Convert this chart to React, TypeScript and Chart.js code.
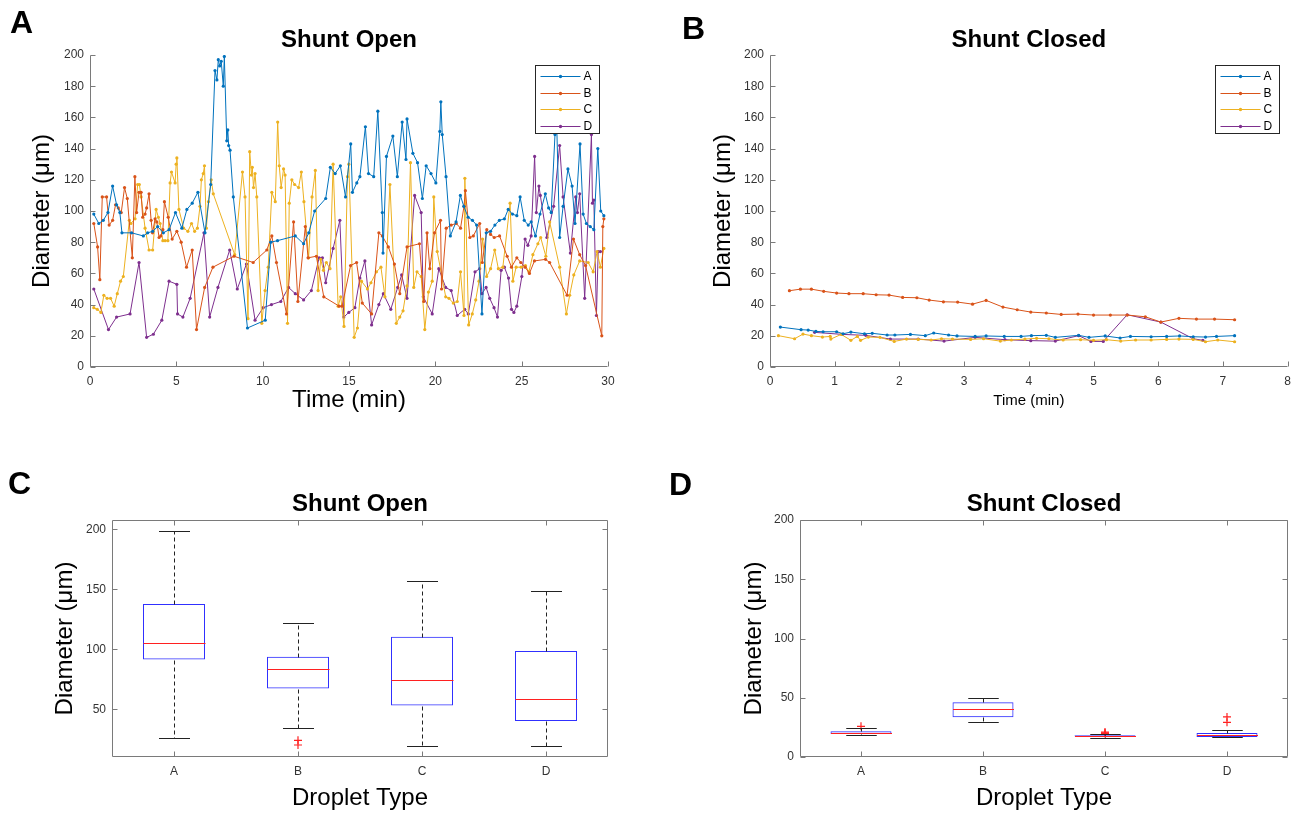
import React, { useEffect, useRef } from 'react';
import { Chart, registerables } from 'chart.js';

Chart.register(...registerables);

const FONT = "'Liberation Sans', Arial, Helvetica, sans-serif";
const TICK_COLOR = '#333333';
const AXIS_COLOR = '#7a7a7a';

const seriesNames = ['A', 'B', 'C', 'D'];
const seriesColors = ['#0072BD', '#D95319', '#EDB120', '#7E2F8E'];

const openTimeTicks = [0, 5, 10, 15, 20, 25, 30];
const closedTimeTicks = [0, 1, 2, 3, 4, 5, 6, 7, 8];
const diameterTicks = [0, 20, 40, 60, 80, 100, 120, 140, 160, 180, 200];
const openBoxTicks = [50, 100, 150, 200];
const closedBoxTicks = [0, 50, 100, 150, 200];

// ---- Panel A : shunt open, diameter vs time ----
const openTimeA = [0.22,0.51,0.77,1.04,1.31,1.54,1.73,1.85,2.41,3.09,3.34,3.63,3.92,4.25,4.58,4.95,5.32,5.61,5.92,6.25,6.66,6.99,7.24,7.35,7.43,7.51,7.6,7.72,7.78,7.92,7.98,8.03,8.11,8.3,9.12,10.15,10.47,10.86,11.89,12.37,12.67,13.01,13.65,13.92,14.2,14.5,14.8,15.1,15.2,15.45,15.63,15.95,16.13,16.43,16.67,16.93,16.97,17.17,17.54,17.8,18.08,18.3,18.36,18.7,18.97,19.25,19.47,19.75,20.03,20.26,20.32,20.4,20.62,20.87,21.2,21.45,21.65,21.9,22.15,22.39,22.7,22.95,23.2,23.45,23.71,24.0,24.22,24.47,24.72,24.91,25.15,25.38,25.55,25.8,26.06,26.37,26.56,26.71,26.93,27.0,27.2,27.4,27.68,27.92,28.09,28.38,28.56,28.75,28.97,29.18,29.41,29.58,29.76];
const openDiamA = [98,92,94,99,116,104,99,86,86,84,86,87,90,86,88,99,89,101,105,112,86,117,190,184,197,193,196,180,199,145,152,142,139,109,25,30,80,81,84,79,86,100,108,128,124,129,109,143,112,118,122,154,124,122,164,99,73,135,148,122,157,133,159,137,131,108,129,124,118,151,170,149,122,84,93,110,103,96,94,91,34,86,87,91,94,95,101,98,97,109,94,91,93,84,98,111,102,99,149,168,83,103,127,116,92,143,98,92,90,88,140,100,97];

const openTimeB = [0.22,0.44,0.57,0.71,0.96,1.11,1.31,1.48,1.64,1.81,2.0,2.16,2.45,2.6,2.7,2.84,2.96,3.05,3.19,3.28,3.42,3.54,3.62,3.77,3.87,4.0,4.1,4.22,4.31,4.53,4.76,5.03,5.28,5.59,5.92,6.17,6.64,7.12,8.34,9.45,10.24,10.53,10.8,11.38,11.79,12.04,12.47,12.63,13.11,13.54,14.43,14.6,15.09,15.44,15.77,16.31,16.73,16.93,17.28,17.63,17.94,18.36,19.08,19.33,19.52,19.68,19.95,20.3,20.36,20.63,20.92,21.21,21.46,21.66,21.74,22.0,22.2,22.57,22.72,22.98,23.2,23.41,23.72,24.16,24.41,24.72,24.95,25.2,25.45,25.74,26.38,26.62,27.63,28.0,28.36,28.7,29.64,29.7,29.76];
const openDiamB = [92,77,56,109,109,91,94,104,102,99,115,108,70,122,99,112,112,96,98,102,111,94,86,95,93,83,84,88,106,96,82,87,80,64,75,24,51,64,71,67,75,84,67,34,93,42,90,70,71,45,39,39,65,67,41,34,86,84,77,66,47,77,79,42,86,63,86,94,50,89,91,92,89,103,113,83,84,92,67,88,85,83,84,71,64,70,67,64,60,68,69,67,46,82,72,65,20,90,95];

const openTimeC = [0.22,0.42,0.63,0.8,0.99,1.19,1.4,1.58,1.77,1.93,2.28,2.37,2.61,2.76,2.86,2.96,3.19,3.42,3.63,3.83,3.96,4.06,4.22,4.35,4.51,4.64,4.72,4.93,4.99,5.03,5.15,5.42,5.67,5.88,6.06,6.22,6.37,6.45,6.56,6.63,6.74,6.86,7.02,7.14,8.38,8.83,8.98,9.15,9.25,9.35,9.4,9.47,9.56,9.66,9.95,10.14,10.32,10.53,10.73,10.87,10.96,11.07,11.21,11.3,11.44,11.54,11.69,11.85,12.08,12.24,12.39,12.66,12.86,13.05,13.21,13.36,13.52,13.69,13.9,14.08,14.37,14.52,14.71,14.91,14.99,15.3,15.49,15.72,16.07,16.27,16.59,16.85,17.08,17.37,17.74,17.94,18.13,18.36,18.56,18.75,18.94,19.18,19.39,19.6,19.82,19.91,20.11,20.6,20.79,21.04,21.27,21.46,21.66,21.71,21.93,22.14,22.34,22.53,22.74,22.97,23.2,23.44,23.65,23.91,24.33,24.49,24.68,24.97,25.22,25.42,25.65,25.94,26.1,26.4,26.62,27.2,27.59,27.78,28.02,28.36,28.85,29.14,29.37,29.56,29.76];
const openDiamC = [38,37,35,46,44,44,39,47,55,58,94,92,95,117,117,109,89,75,75,101,96,92,81,81,81,118,125,118,130,134,101,89,87,92,87,89,103,120,124,129,89,106,120,111,72,125,109,31,138,123,128,115,124,109,28,49,64,112,106,157,129,115,127,123,28,105,120,117,115,125,106,70,109,126,49,69,62,67,63,130,39,45,26,122,130,19,25,55,50,54,61,64,45,117,28,32,36,52,131,51,61,58,24,48,55,109,74,45,44,41,42,61,33,121,27,34,43,55,82,58,63,75,63,64,105,55,64,64,65,61,72,79,83,71,93,64,34,46,59,68,67,61,74,64,76];

const openTimeD = [0.22,1.07,1.54,2.32,2.84,3.28,3.67,4.16,4.58,5.03,5.07,5.38,5.8,6.6,6.93,7.41,8.09,8.53,9.06,9.56,10.03,10.51,11.05,11.5,11.89,12.37,12.82,13.27,13.46,13.65,14.08,14.47,14.7,14.99,15.34,15.63,15.92,16.31,16.73,16.99,17.42,17.82,18.05,18.36,18.8,19.18,19.3,19.82,20.2,20.6,20.92,21.27,21.7,21.91,22.3,22.57,22.7,22.94,23.15,23.4,23.6,23.81,24.0,24.24,24.41,24.55,24.72,25.01,25.2,25.36,25.55,25.75,25.85,26.0,26.08,26.46,26.85,27.2,27.4,27.82,28.13,28.23,28.36,28.65,29.04,29.1,29.18,29.33,29.43,29.56];
const openDiamD = [50,24,32,34,67,19,21,30,55,53,34,32,44,86,32,51,75,50,66,30,38,40,42,51,47,43,49,70,70,54,76,94,32,35,38,57,68,27,40,47,37,51,59,44,110,99,45,34,63,51,49,33,37,34,61,63,47,51,44,38,32,62,64,57,37,35,39,58,82,78,84,135,99,116,110,83,103,142,109,73,109,99,111,44,149,105,107,33,74,74];

// ---- Panel B : shunt closed, diameter vs time ----
const closedTimeA = [0.16,0.48,0.59,0.71,0.82,1.03,1.13,1.25,1.46,1.58,1.81,1.93,2.17,2.4,2.53,2.76,2.89,3.17,3.34,3.62,3.88,4.04,4.27,4.41,4.77,4.93,5.18,5.41,5.57,5.89,6.13,6.33,6.54,6.73,6.9,7.18];
const closedDiamA = [25.6,23.9,23.7,22.8,22.6,22.6,21.3,22.4,21.3,21.6,20.5,20.5,20.9,20.1,21.8,20.5,19.9,19.6,19.9,19.6,19.6,20.1,20.3,19.0,20.3,19.0,19.9,18.6,19.6,19.4,19.6,19.9,19.4,19.2,19.6,20.1];
const closedTimeB = [0.3,0.47,0.64,0.83,1.03,1.22,1.44,1.64,1.84,2.05,2.27,2.46,2.68,2.9,3.13,3.34,3.6,3.82,4.03,4.27,4.5,4.76,5.0,5.26,5.52,5.8,6.04,6.32,6.59,6.87,7.18];
const closedDiamB = [48.9,49.9,49.9,48.5,47.4,47,47,46.3,46.1,44.6,44.4,42.9,41.8,41.6,40.3,42.7,38.4,36.7,35.2,34.6,33.7,33.9,33.3,33.3,33.3,32.2,28.8,31.2,30.7,30.7,30.3];
const closedTimeC = [0.13,0.38,0.51,0.64,0.81,0.93,0.94,1.1,1.25,1.35,1.4,1.52,1.7,1.92,2.11,2.29,2.49,2.65,2.82,3.1,3.3,3.56,3.73,3.94,4.12,4.31,4.53,4.8,5.0,5.2,5.42,5.65,5.89,6.13,6.32,6.54,6.73,6.92,7.18];
const closedDiamC = [20.1,18.1,21.1,20.1,19.2,19.6,17.9,20.9,17.1,19.6,17.1,19.2,19.0,16.4,17.9,17.7,17.3,18.1,17.9,17.7,18.1,16.6,17.3,17.9,18.4,18.1,17.3,17.5,17.1,17.5,16.6,17.3,17.3,17.7,17.9,17.7,16.2,17.3,16.2];
const closedTimeD = [0.69,1.12,1.48,1.86,2.29,2.69,3.17,3.63,4.03,4.41,4.77,4.96,5.15,5.52,6.04,6.54,6.69];
const closedDiamD = [22.2,20.9,20.3,17.9,17.9,16.6,19.0,17.5,16.9,16.6,20.1,16.4,16.4,33.5,28.8,18.1,17.1];

// ---- Panel C : shunt open box plot ----
const openMin = [25.9, 34.2, 19.2, 19.2];
const openQ1 = [91.5, 67.3, 53.1, 40.3];
const openMedian = [105.4, 83.7, 74.3, 58.4];
const openQ3 = [137.7, 93.7, 110.4, 98.5];
const openMax = [198.9, 122.1, 157.2, 148.5];
const openOutlierType = ['B', 'B'];
const openOutlierValue = [24.2, 20.3];

// ---- Panel D : shunt closed box plot ----
const closedMin = [18.6, 29.3, 16.1, 16.6];
const closedQ1 = [19.4, 33.5, 17.2, 16.9];
const closedMedian = [20.3, 40.3, 17.7, 18.3];
const closedQ3 = [21.7, 46.2, 18.3, 20.3];
const closedMax = [24.2, 49.9, 19.7, 22.5];
const closedOutlierType = ['A', 'C', 'C', 'C', 'D', 'D'];
const closedOutlierValue = [25.9, 21.1, 20.3, 19.9, 33.8, 29.3];

// ---------------- plugins ----------------
const framePlugin = {
  id: 'matFrame',
  afterDraw(chart: any, _a: any, opts: any) {
    if (!opts || !opts.enabled) return;
    const { ctx, chartArea: ca } = chart;
    const xs = chart.scales.x;
    const ys = chart.scales.y;
    const L = Math.round(ca.left) + 0.5;
    const R = Math.round(ca.right) - 0.5;
    const T = Math.round(ca.top) + 0.5;
    const B = Math.round(ca.bottom) - 0.5;
    const len = opts.len;
    ctx.save();
    ctx.strokeStyle = AXIS_COLOR;
    ctx.lineWidth = 1;
    ctx.beginPath();
    if (opts.full) {
      ctx.rect(L, T, R - L, B - T);
    } else {
      ctx.moveTo(L, T);
      ctx.lineTo(L, B);
      ctx.lineTo(R, B);
    }
    for (const v of opts.yTicks) {
      const y = Math.round(ys.getPixelForValue(v)) + 0.5;
      ctx.moveTo(L, y);
      ctx.lineTo(L + len, y);
      if (opts.full) {
        ctx.moveTo(R, y);
        ctx.lineTo(R - len, y);
      }
    }
    for (const v of opts.xTicks) {
      const x = Math.round(xs.getPixelForValue(v)) + 0.5;
      ctx.moveTo(x, B);
      ctx.lineTo(x, B - len);
      if (opts.full) {
        ctx.moveTo(x, T);
        ctx.lineTo(x, T + len);
      }
    }
    ctx.stroke();
    ctx.restore();
  },
};

const legendPlugin = {
  id: 'matLegend',
  afterDraw(chart: any, _a: any, opts: any) {
    if (!opts || !opts.enabled) return;
    const { ctx, chartArea: ca } = chart;
    const w = 64;
    const h = 68;
    const x0 = Math.round(ca.right - opts.offsetRight - w) + 0.5;
    const y0 = Math.round(ca.top + opts.offsetTop) + 0.5;
    ctx.save();
    ctx.fillStyle = '#ffffff';
    ctx.fillRect(x0, y0, w, h);
    ctx.strokeStyle = '#262626';
    ctx.lineWidth = 1;
    ctx.strokeRect(x0, y0, w, h);
    chart.data.datasets.forEach((ds: any, i: number) => {
      const y = Math.round(y0 + 10.5 + i * 16.5) + 0.5;
      ctx.strokeStyle = ds.borderColor;
      ctx.beginPath();
      ctx.moveTo(x0 + 5, y);
      ctx.lineTo(x0 + 45, y);
      ctx.stroke();
      ctx.fillStyle = ds.borderColor;
      ctx.beginPath();
      ctx.arc(x0 + 25, y, 1.7, 0, Math.PI * 2);
      ctx.fill();
      ctx.fillStyle = '#000000';
      ctx.font = `12px ${FONT}`;
      ctx.textAlign = 'left';
      ctx.textBaseline = 'middle';
      ctx.fillText(ds.label, x0 + 48, y + 0.5);
    });
    ctx.restore();
  },
};

const boxPlugin = {
  id: 'matBox',
  afterDatasetsDraw(chart: any, _a: any, opts: any) {
    if (!opts || !opts.enabled) return;
    const { ctx } = chart;
    const xs = chart.scales.x;
    const ys = chart.scales.y;
    const n = opts.median.length;
    const cw = (xs.right - xs.left) / n;
    const py = (v: number) => Math.round(ys.getPixelForValue(v)) + 0.5;
    ctx.save();
    ctx.lineWidth = 1;
    for (let i = 0; i < n; i++) {
      const cx = Math.round(xs.getPixelForValue(i)) + 0.5;
      ctx.strokeStyle = '#222222';
      ctx.setLineDash([4, 3]);
      ctx.beginPath();
      ctx.moveTo(cx, py(opts.q3[i]));
      ctx.lineTo(cx, py(opts.max[i]));
      ctx.moveTo(cx, py(opts.q1[i]));
      ctx.lineTo(cx, py(opts.min[i]));
      ctx.stroke();
      ctx.setLineDash([]);
      const cap = cw * 0.125;
      ctx.beginPath();
      ctx.moveTo(cx - cap, py(opts.max[i]));
      ctx.lineTo(cx + cap, py(opts.max[i]));
      ctx.moveTo(cx - cap, py(opts.min[i]));
      ctx.lineTo(cx + cap, py(opts.min[i]));
      ctx.stroke();
      const hw = cw * 0.25;
      ctx.strokeStyle = '#ff2020';
      ctx.beginPath();
      ctx.moveTo(cx - hw, py(opts.median[i]));
      ctx.lineTo(cx + hw, py(opts.median[i]));
      ctx.stroke();
    }
    ctx.restore();
  },
};

// ---------------- configs ----------------
type Lay = {
  pad: { left: number; right: number; top: number; bottom: number };
  yWidth: number;
  xHeight: number;
  titlePad: { top: number; bottom: number };
  yTitlePadTop: number;
  xTitleSize: number;
  xTitlePadBottom: number;
  xTickPad: number;
};

function lineConfig(title: string, times: number[][], diams: number[][], xTicks: number[], lay: Lay): any {
  return {
    type: 'line',
    data: {
      datasets: seriesNames.map((name, i) => ({
        label: name,
        data: times[i].map((t, j) => ({ x: t, y: diams[i][j] })),
        borderColor: seriesColors[i],
        backgroundColor: seriesColors[i],
        pointBackgroundColor: seriesColors[i],
        borderWidth: 1,
        pointRadius: 1.6,
        pointHoverRadius: 1.6,
        pointBorderWidth: 0,
        tension: 0,
        fill: false,
      })),
    },
    options: {
      animation: false,
      responsive: false,
      devicePixelRatio: 1,
      events: [],
      layout: { padding: lay.pad },
      plugins: {
        legend: { display: false },
        tooltip: { enabled: false },
        title: {
          display: true, text: title, fullSize: false, color: '#000000',
          font: { family: FONT, size: 24, weight: 'bold', lineHeight: 1.2 },
          padding: lay.titlePad,
        },
        matFrame: { enabled: true, full: false, xTicks, yTicks: diameterTicks, len: 5 },
        matLegend: { enabled: true, offsetRight: 9, offsetTop: 10 },
      },
      scales: {
        x: {
          type: 'linear', min: xTicks[0], max: xTicks[xTicks.length - 1],
          afterBuildTicks: (s: any) => { s.ticks = xTicks.map((v) => ({ value: v })); },
          afterFit: (s: any) => { s.height = lay.xHeight; },
          grid: { display: false, drawTicks: false },
          border: { display: false },
          ticks: { color: TICK_COLOR, font: { family: FONT, size: 12 }, padding: lay.xTickPad, maxRotation: 0, autoSkip: false, callback: (v: any) => String(v) },
          title: { display: true, text: 'Time (min)', color: '#000000', font: { family: FONT, size: lay.xTitleSize, lineHeight: 1.2 }, padding: { top: 0, bottom: lay.xTitlePadBottom } },
        },
        y: {
          type: 'linear', min: 0, max: 200,
          afterBuildTicks: (s: any) => { s.ticks = diameterTicks.map((v) => ({ value: v })); },
          afterFit: (s: any) => { s.width = lay.yWidth; },
          grid: { display: false, drawTicks: false },
          border: { display: false },
          ticks: { color: TICK_COLOR, font: { family: FONT, size: 12 }, padding: 6, autoSkip: false, callback: (v: any) => String(v) },
          title: { display: true, text: 'Diameter (μm)', color: '#000000', font: { family: FONT, size: 24, lineHeight: 1.2 }, padding: { top: lay.yTitlePadTop, bottom: 0 } },
        },
      },
    },
    plugins: [framePlugin, legendPlugin],
  };
}

function boxConfig(
  title: string,
  mins: number[], q1: number[], med: number[], q3: number[], maxs: number[],
  outType: string[], outVal: number[],
  yMin: number, yMax: number, yTicks: number[], lay: Lay,
): any {
  return {
    type: 'bar',
    data: {
      labels: seriesNames,
      datasets: [
        {
          type: 'bar',
          label: 'IQR',
          data: seriesNames.map((_, i) => [q1[i], q3[i]]),
          backgroundColor: 'rgba(0,0,0,0)',
          borderColor: '#3030ff',
          borderWidth: 1,
          borderSkipped: false,
          barPercentage: 0.5,
          categoryPercentage: 1,
        },
        {
          type: 'line',
          label: 'Outliers',
          data: outType.map((c, i) => ({ x: c, y: outVal[i] })),
          showLine: false,
          pointStyle: 'cross',
          pointRadius: 4,
          pointHoverRadius: 4,
          pointBorderWidth: 1.2,
          borderColor: '#ff2020',
          backgroundColor: '#ff2020',
        },
      ],
    },
    options: {
      animation: false,
      responsive: false,
      devicePixelRatio: 1,
      events: [],
      layout: { padding: lay.pad },
      plugins: {
        legend: { display: false },
        tooltip: { enabled: false },
        title: {
          display: true, text: title, fullSize: false, color: '#000000',
          font: { family: FONT, size: 24, weight: 'bold', lineHeight: 1.2 },
          padding: lay.titlePad,
        },
        matFrame: { enabled: true, full: true, xTicks: [0, 1, 2, 3], yTicks, len: 5 },
        matBox: { enabled: true, min: mins, q1, median: med, q3, max: maxs },
      },
      scales: {
        x: {
          type: 'category', offset: true,
          afterFit: (s: any) => { s.height = lay.xHeight; },
          grid: { display: false, drawTicks: false },
          border: { display: false },
          ticks: { color: TICK_COLOR, font: { family: FONT, size: 12 }, padding: lay.xTickPad, maxRotation: 0, autoSkip: false },
          title: { display: true, text: 'Droplet Type', color: '#000000', font: { family: FONT, size: lay.xTitleSize, lineHeight: 1.2 }, padding: { top: 0, bottom: lay.xTitlePadBottom } },
        },
        y: {
          type: 'linear', min: yMin, max: yMax,
          afterBuildTicks: (s: any) => { s.ticks = yTicks.map((v) => ({ value: v })); },
          afterFit: (s: any) => { s.width = lay.yWidth; },
          grid: { display: false, drawTicks: false },
          border: { display: false },
          ticks: { color: TICK_COLOR, font: { family: FONT, size: 12 }, padding: 6, autoSkip: false, callback: (v: any) => String(v) },
          title: { display: true, text: 'Diameter (μm)', color: '#000000', font: { family: FONT, size: 24, lineHeight: 1.2 }, padding: { top: lay.yTitlePadTop, bottom: 0 } },
        },
      },
    },
    plugins: [framePlugin, boxPlugin],
  };
}

function ChartBox(props: { left: number; top: number; width: number; height: number; make: () => any }) {
  const ref = useRef<HTMLCanvasElement>(null);
  useEffect(() => {
    if (!ref.current) return;
    const chart = new Chart(ref.current, props.make());
    return () => chart.destroy();
  }, []);
  return (
    <canvas
      ref={ref}
      width={props.width}
      height={props.height}
      style={{ position: 'absolute', left: props.left, top: props.top, width: props.width, height: props.height }}
    />
  );
}

const letterStyle = (left: number, top: number): React.CSSProperties => ({
  position: 'absolute', left, top, fontFamily: FONT, fontWeight: 'bold', fontSize: 32, lineHeight: '32px', color: '#000',
});

export default function App() {
  const layA: Lay = { pad: { left: 0, right: 42, top: 0, bottom: 8 }, yWidth: 90, xHeight: 55, titlePad: { top: 25.6, bottom: 0.6 }, yTitlePadTop: 27.6, xTitleSize: 24, xTitlePadBottom: 7.6, xTickPad: 7 };
  const layB: Lay = { pad: { left: 0, right: 9, top: 0, bottom: 8 }, yWidth: 110, xHeight: 55, titlePad: { top: 25.6, bottom: 0.6 }, yTitlePadTop: 48.6, xTitleSize: 15, xTitlePadBottom: 12, xTickPad: 7 };
  const layC: Lay = { pad: { left: 0, right: 42, top: 0, bottom: 0 }, yWidth: 112, xHeight: 56, titlePad: { top: 39.6, bottom: 1.6 }, yTitlePadTop: 51.2, xTitleSize: 24, xTitlePadBottom: 0.6, xTickPad: 7.8 };
  const layD: Lay = { pad: { left: 0, right: 10, top: 0, bottom: 0 }, yWidth: 140, xHeight: 56, titlePad: { top: 39.6, bottom: 1.6 }, yTitlePadTop: 79.6, xTitleSize: 24, xTitlePadBottom: 0.6, xTickPad: 7.8 };

  return (
    <div style={{ position: 'absolute', left: 0, top: 0, width: 1298, height: 813, overflow: 'hidden', background: '#ffffff' }}>
      <ChartBox left={0} top={0} width={650} height={430}
        make={() => lineConfig('Shunt Open', [openTimeA, openTimeB, openTimeC, openTimeD], [openDiamA, openDiamB, openDiamC, openDiamD], openTimeTicks, layA)} />
      <ChartBox left={660} top={0} width={638} height={430}
        make={() => lineConfig('Shunt Closed', [closedTimeA, closedTimeB, closedTimeC, closedTimeD], [closedDiamA, closedDiamB, closedDiamC, closedDiamD], closedTimeTicks, layB)} />
      <ChartBox left={0} top={450} width={650} height={363}
        make={() => boxConfig('Shunt Open', openMin, openQ1, openMedian, openQ3, openMax, openOutlierType, openOutlierValue, 10.3, 207.7, openBoxTicks, layC)} />
      <ChartBox left={660} top={450} width={638} height={363}
        make={() => boxConfig('Shunt Closed', closedMin, closedQ1, closedMedian, closedQ3, closedMax, closedOutlierType, closedOutlierValue, 0, 200, closedBoxTicks, layD)} />
      <div style={letterStyle(10, 6)}>A</div>
      <div style={letterStyle(682, 12)}>B</div>
      <div style={letterStyle(8, 467)}>C</div>
      <div style={letterStyle(669, 468)}>D</div>
    </div>
  );
}
